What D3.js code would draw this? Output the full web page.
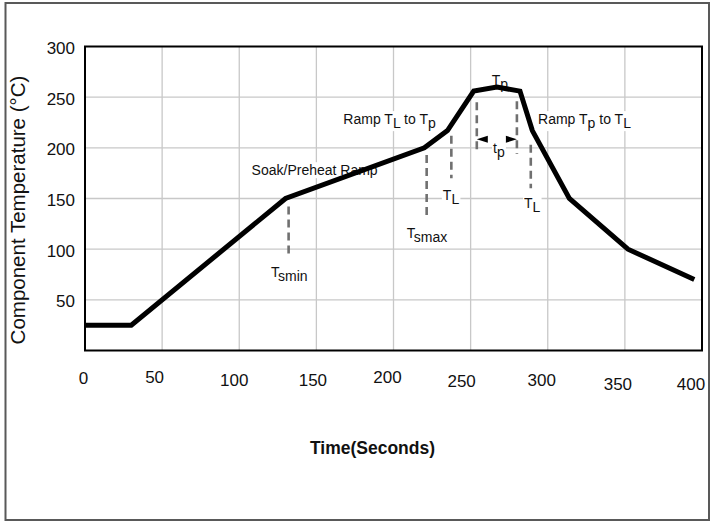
<!DOCTYPE html>
<html><head><meta charset="utf-8">
<script src="https://cdn.jsdelivr.net/npm/d3@7/dist/d3.min.js"></script>
<style>
html,body{margin:0;padding:0;background:#fff;}
text{font-family:"Liberation Sans",Arial,sans-serif;}
</style></head>
<body><svg id="c" width="712" height="523"></svg>
<script>
// ---- data ----
const timeSec = [0, 30, 130, 220, 235, 252, 267, 282, 290, 314, 352, 395];
const tempC   = [25, 25, 150, 200, 217, 256, 260, 256, 217, 150, 100, 70];
const xTicks = [0, 50, 100, 150, 200, 250, 300, 350, 400];
const yTicks = [50, 100, 150, 200, 250, 300];
// dashed marker lines: time, temp from, temp to
const markerTime = [132, 221.5, 237.5, 254, 280, 289];
const markerTop  = [142, 193, 212, 245, 246, 203];
const markerBot  = [91, 129, 170, 194, 194, 160];
// annotation labels ( _{..} = subscript ), anchor time / temp
const annText = ["Soak/Preheat Ramp", "Ramp T_{L} to T_{p}", "Ramp T_{p} to T_{L}", "T_{p}", "t_{p}", "T_{L}", "T_{L}", "T_{smax}", "T_{smin}"];
const annTime = [108, 167.5, 293.7, 263.7, 264.5, 232, 284.6, 208.6, 120.6];
const annTemp = [173, 223.4, 223.4, 262.3, 195, 148.3, 141, 111.3, 72.5];
const tpArrowTemp = 208.5;

// ---- layout ----
const W = 712, H = 523;
const L = 85, R = 702, T = 46.5, B = 350.5;
const xNudge = [-1.5, -7.5, -5, -3.5, -6, -9, -6, -7, -11];
const yNudge = [-2, -3, 0, 0, -3, 1, 0, 3.5, 3.5];

const svg = d3.select("#c");
svg.append("rect").attr("width", W).attr("height", H).attr("fill", "#fff");
svg.append("rect").attr("x", 5.5).attr("y", 3).attr("width", 703.5).attr("height", 517)
  .attr("fill", "none").attr("stroke", "#595959").attr("stroke-width", 2);

const x = d3.scaleLinear().domain([0, 400]).range([L, R]);
const y = d3.scaleLinear().domain([0, 300]).range([B, T]);

// grid
const g = svg.append("g");
g.selectAll("line.v").data(xTicks.filter(d => d > 0 && d < 400)).join("line")
  .attr("x1", d => x(d)).attr("x2", d => x(d)).attr("y1", T).attr("y2", B)
  .attr("stroke", "#c8c8c8").attr("stroke-width", 1.3);
g.selectAll("line.h").data(yTicks.filter(d => d < 300)).join("line")
  .attr("y1", d => y(d)).attr("y2", d => y(d)).attr("x1", L).attr("x2", R)
  .attr("stroke", "#c8c8c8").attr("stroke-width", 1.3);

// tick labels
svg.selectAll("text.yt").data(yTicks).join("text")
  .attr("x", L - 10).attr("y", d => y(d) + 7.5)
  .attr("text-anchor", "end").attr("font-size", 17).attr("fill", "#111").text(d => d);
svg.selectAll("text.xt").data(xTicks).join("text")
  .attr("x", (d, i) => x(d) + xNudge[i]).attr("y", (d, i) => 386 + yNudge[i])
  .attr("text-anchor", "middle").attr("font-size", 17).attr("fill", "#111").text(d => d);

// axis titles
svg.append("text").attr("transform", "translate(25,210) rotate(-90)")
  .attr("text-anchor", "middle").attr("font-size", 20.5).attr("fill", "#111")
  .text("Component Temperature (°C)");
svg.append("text").attr("x", 372.5).attr("y", 454).attr("text-anchor", "middle")
  .attr("font-size", 17.5).attr("font-weight", "bold").attr("fill", "#111").text("Time(Seconds)");

// annotations with white boxes
const annG = svg.append("g");
annText.forEach((s, i) => {
  const gg = annG.append("g");
  const t = gg.append("text").attr("x", x(annTime[i])).attr("y", y(annTemp[i]))
    .attr("font-size", 14).attr("fill", "#111");
  const parts = s.split(/(_\{[^}]*\})/).filter(p => p.length);
  let sub = false;
  parts.forEach(p => {
    if (p.startsWith("_{")) {
      t.append("tspan").attr("dy", 4).text(p.slice(2, -1));
      sub = true;
    } else {
      t.append("tspan").attr("dy", sub ? -4 : 0).text(p);
      sub = false;
    }
  });
  const bb = t.node().getBBox();
  gg.insert("rect", "text").attr("x", bb.x - 1).attr("y", bb.y).attr("width", bb.width + 2)
    .attr("height", bb.height).attr("fill", "#fff");
});

// dashed markers
svg.selectAll("line.mk").data(markerTime).join("line")
  .attr("x1", d => x(d)).attr("x2", d => x(d))
  .attr("y1", (d, i) => y(markerTop[i])).attr("y2", (d, i) => y(markerBot[i]))
  .attr("stroke", "#707070").attr("stroke-width", 2.6).attr("stroke-dasharray", "8,5");

// tp arrows (left points left, right points right)
const ay = y(tpArrowTemp);
const xl = x(markerTime[3]), xr = x(markerTime[4]);
svg.append("path").attr("d", `M${xl},${ay} L${xl + 11},${ay - 3.5} L${xl + 11},${ay + 3.5} Z`).attr("fill", "#000");
svg.append("path").attr("d", `M${xr},${ay} L${xr - 11},${ay - 3.5} L${xr - 11},${ay + 3.5} Z`).attr("fill", "#000");

// curve
const pts = timeSec.map((t, i) => [t, tempC[i]]);
svg.append("path").datum(pts)
  .attr("d", d3.line().x(d => x(d[0])).y(d => y(d[1])))
  .attr("fill", "none").attr("stroke", "#000").attr("stroke-width", 5)
  .attr("stroke-linejoin", "miter");

// plot border
svg.append("rect").attr("x", L).attr("y", T).attr("width", R - L).attr("height", B - T)
  .attr("fill", "none").attr("stroke", "#000").attr("stroke-width", 2);
</script></body></html>
